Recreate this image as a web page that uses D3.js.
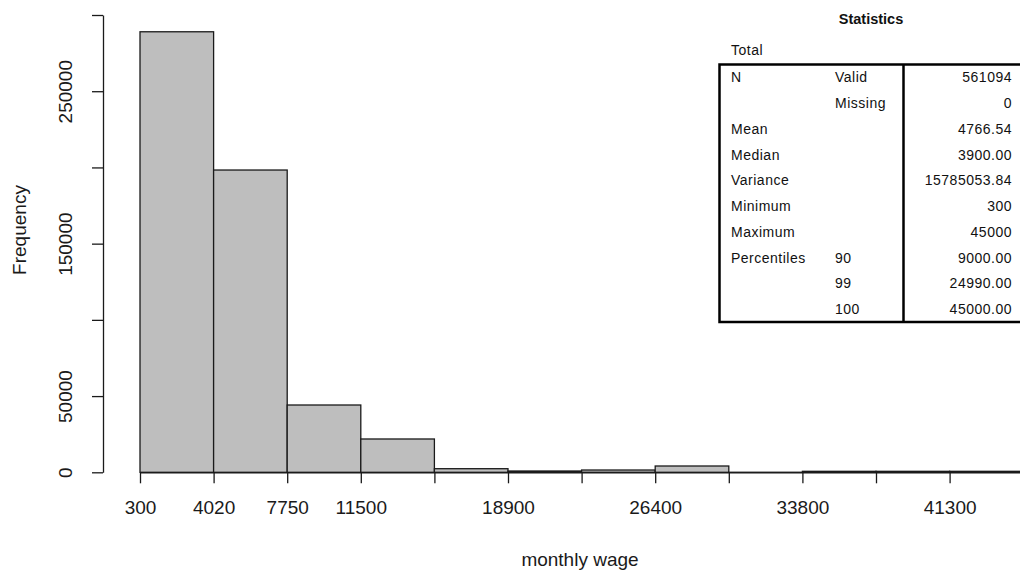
<!DOCTYPE html>
<html>
<head>
<meta charset="utf-8">
<script src="https://cdn.jsdelivr.net/npm/d3@7/dist/d3.min.js"></script>
<style>
  html, body { margin: 0; padding: 0; background: #fff; }
  svg { display: block; font-family: "Liberation Sans", Arial, sans-serif; }
</style>
</head>
<body>
<svg id="chart" width="1020" height="573"></svg>
<script>
// Histogram bin edges (monthly wage) and bin frequencies
const breaks = [300, 4025, 7750, 11475, 15200, 18925, 22650, 26375, 30100, 33825, 37550, 41275, 45000];
const counts = [289000, 198300, 44150, 21850, 2360, 850, 1500, 4130, 30, 650, 650, 650];

// Axis ticks and the labels printed at them (blank = tick without label)
const xTickLabels = ["300", "4020", "7750", "11500", "", "18900", "", "26400", "", "33800", "", "41300", ""];
const yTicks = [0, 50000, 100000, 150000, 200000, 250000, 300000];
const yTickLabels = ["0", "50000", "", "150000", "", "250000", ""];

// Summary statistics table
const statNames = ["N", "", "Mean", "Median", "Variance", "Minimum", "Maximum", "Percentiles", "", ""];
const statSubNames = ["Valid", "Missing", "", "", "", "", "", "90", "99", "100"];
const statValues = ["561094", "0", "4766.54", "3900.00", "15785053.84", "300", "45000", "9000.00", "24990.00", "45000.00"];

const svg = d3.select("#chart");

const x = d3.scaleLinear().domain([300, 45000]).range([140, 1023.2]);
const y = d3.scaleLinear().domain([0, 300000]).range([472.3, 15]);

const bins = counts.map((c, i) => ({ x0: breaks[i], x1: breaks[i + 1], count: c }));

// Bars
svg.append("g")
  .selectAll("rect")
  .data(bins)
  .join("rect")
  .attr("x", d => x(d.x0))
  .attr("y", d => y(d.count))
  .attr("width", d => x(d.x1) - x(d.x0))
  .attr("height", d => y(0) - y(d.count))
  .attr("fill", "#bebebe")
  .attr("stroke", "#1a1a1a")
  .attr("stroke-width", 1.3);

// X axis along the zero line
const xAxis = d3.axisBottom(x)
  .tickValues(breaks)
  .tickFormat((d, i) => xTickLabels[i])
  .tickSizeOuter(0)
  .tickSizeInner(11)
  .tickPadding(17);

svg.append("g")
  .attr("transform", `translate(0,${y(0)})`)
  .call(xAxis)
  .call(g => g.select(".domain").attr("stroke", "#1a1a1a").attr("stroke-width", 1.3))
  .call(g => g.selectAll(".tick line").attr("stroke", "#1a1a1a").attr("stroke-width", 1.3))
  .call(g => g.selectAll(".tick text")
    .attr("fill", "#1a1a1a")
    .style("font-size", "19px")
    .style("font-family", "'Liberation Sans', Arial, sans-serif"));

// Y axis with labels running parallel to the axis
const yAxis = d3.axisLeft(y)
  .tickValues(yTicks)
  .tickFormat((d, i) => yTickLabels[i])
  .tickSizeOuter(0)
  .tickSizeInner(11);

svg.append("g")
  .attr("transform", "translate(103,0)")
  .call(yAxis)
  .call(g => g.select(".domain").attr("stroke", "#1a1a1a").attr("stroke-width", 1.3))
  .call(g => g.selectAll(".tick line").attr("stroke", "#1a1a1a").attr("stroke-width", 1.3))
  .call(g => g.selectAll(".tick text")
    .attr("fill", "#1a1a1a")
    .attr("x", null).attr("dy", null)
    .attr("text-anchor", "middle")
    .attr("transform", "translate(-31,0) rotate(-90)")
    .style("font-size", "19px")
    .style("font-family", "'Liberation Sans', Arial, sans-serif"));

// Axis titles
svg.append("text")
  .attr("x", 580).attr("y", 566)
  .attr("text-anchor", "middle")
  .attr("fill", "#1a1a1a")
  .style("font-size", "19px")
  .text("monthly wage");

svg.append("text")
  .attr("transform", "translate(26,230) rotate(-90)")
  .attr("text-anchor", "middle")
  .attr("fill", "#1a1a1a")
  .style("font-size", "19px")
  .text("Frequency");

// Statistics table
const table = svg.append("g");
table.append("text")
  .attr("x", 871).attr("y", 24)
  .attr("text-anchor", "middle")
  .attr("fill", "#111")
  .style("font-size", "14.5px")
  .style("font-weight", "bold")
  .text("Statistics");

table.append("text")
  .attr("x", 731).attr("y", 55)
  .attr("fill", "#111")
  .style("font-size", "14px")
  .style("letter-spacing", "0.5px")
  .text("Total");

const rows = d3.scaleBand().domain(d3.range(statValues.length)).range([64.5, 322]);

table.append("rect")
  .attr("x", 719.5).attr("y", 64.5)
  .attr("width", 330).attr("height", 322 - 64.5)
  .attr("fill", "none")
  .attr("stroke", "#000")
  .attr("stroke-width", 2.5);

table.append("line")
  .attr("x1", 903.5).attr("x2", 903.5)
  .attr("y1", 64.5).attr("y2", 322)
  .attr("stroke", "#000")
  .attr("stroke-width", 2.5);

const rowG = table.selectAll("g.row")
  .data(statValues.map((v, i) => ({ i, name: statNames[i], sub: statSubNames[i], value: v })))
  .join("g")
  .attr("class", "row")
  .attr("transform", d => `translate(0,${rows(d.i) + rows.bandwidth() / 2 + 5})`)
  .style("font-size", "14px")
  .style("letter-spacing", "0.5px")
  .attr("fill", "#111");

rowG.append("text").attr("x", 731).text(d => d.name);
rowG.append("text").attr("x", 835).text(d => d.sub);
rowG.append("text").attr("x", 1012).attr("text-anchor", "end").text(d => d.value);
</script>
</body>
</html>
